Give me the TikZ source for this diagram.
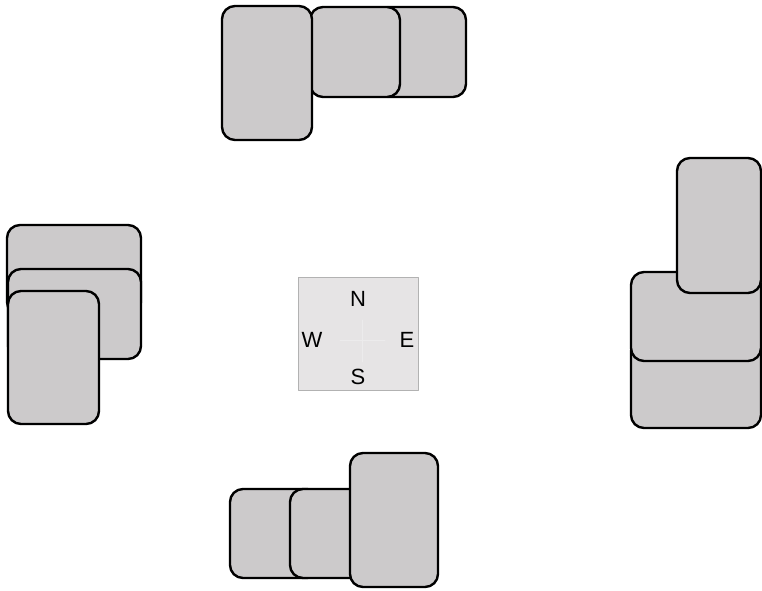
\documentclass[tikz,border=0pt]{standalone}
\usepackage{fontspec}
\setmainfont{Liberation Sans}
\definecolor{seatgray}{HTML}{CCCACB}
\definecolor{boxgray}{HTML}{E6E4E5}
\definecolor{boxline}{HTML}{B2B2B2}
\tikzset{seat/.style={draw=black,fill=seatgray,line width=2.4pt,rounded corners=13pt}}
\begin{document}
\begin{tikzpicture}[line join=round,line cap=round,x=1pt,y=-1pt,font=\fontsize{22}{24}\selectfont]
	\useasboundingbox (0,0) rectangle (762,590);
	% top
	\draw[seat] (376,7) rectangle (466,97);
	\draw[seat] (310,7) rectangle (400,97);
	\draw[seat] (222,6) rectangle (312,140);
	% left
	\draw[seat] (7,225) rectangle (141,315);
	\draw[seat] (8,269) rectangle (141,359);
	\draw[seat] (8,291) rectangle (99,424);
	% right
	\draw[seat] (631,338) rectangle (761,428);
	\draw[seat] (631,272) rectangle (761,361);
	\draw[seat] (677,158) rectangle (761,293);
	% bottom
	\draw[seat] (230,489) rectangle (320,578);
	\draw[seat] (290,489) rectangle (380,578);
	\draw[seat] (350,453) rectangle (438,587);
	% compass
	\draw[boxline,fill=boxgray,line width=1pt] (298,277) rectangle (418,390);
	\draw[white!25!boxgray,line width=0.8pt] (340,340)--(385,340) (362,320)--(362,362);
	\node (n) at (358,299) {N};
	\node (w) at (312,340) {W};
	\node (e) at (407,340) {E};
	\node (s) at (358,377) {S};
\end{tikzpicture}
\end{document}
